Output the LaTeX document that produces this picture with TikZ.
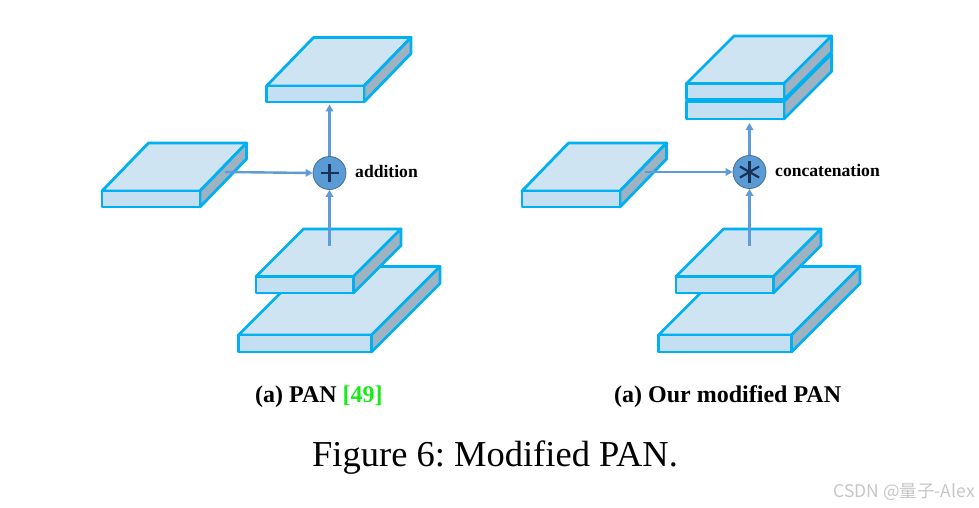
\documentclass[tikz,border=0pt]{standalone}
\usepackage{fontspec}
\setmainfont{Liberation Serif}
\newfontfamily\cjkfont{Noto Sans CJK SC}
\usepackage{tikz}
\usetikzlibrary{arrows.meta,positioning}
\frenchspacing

\definecolor{slabtopc}{RGB}{207,228,243}
\definecolor{slabfrontc}{RGB}{196,223,241}
\definecolor{slabsidec}{RGB}{158,178,194}
\definecolor{slabedge}{RGB}{0,176,240}
\definecolor{opfill}{RGB}{91,155,213}
\definecolor{opedge}{RGB}{70,110,150}
\definecolor{opsign}{RGB}{25,50,85}
\definecolor{flowc}{RGB}{95,155,215}
\definecolor{citec}{RGB}{25,235,25}

\tikzset{
  slabtop/.style={draw=slabedge, line width=2.8pt, line join=round, fill=slabtopc},
  slabfront/.style={draw=slabedge, line width=2.8pt, line join=round, fill=slabfrontc},
  slabside/.style={draw=slabedge, line width=2.8pt, line join=round, fill=slabsidec},
  mergeop/.style={circle, draw=opedge, line width=0.8pt, fill=opfill, minimum size=33pt, inner sep=0pt},
  flow/.style={draw=flowc, line width=2.4pt, -{Triangle[length=7pt,width=7.5pt]}},
  signline/.style={draw=opsign, line width=2.4pt},
  oplabel/.style={anchor=base west, inner sep=0pt, font=\fontsize{17.6}{20}\selectfont\bfseries},
  subcap/.style={anchor=base west, inner sep=0pt, font=\fontsize{24}{28}\selectfont\bfseries}
}

% x, y (front top left), width, thickness, depth dx, depth dy
\newcommand{\featslab}[6]{%
  \draw[slabtop] (#1,#2) -- ++(#5,-#6) -- ++(#3,0) -- ++(-#5,#6) -- cycle;
  \draw[slabside] ({#1+#3},#2) -- ++(#5,-#6) -- ++(0,#4) -- ++(-#5,#6) -- cycle;
  \draw[slabfront] (#1,#2) rectangle ++(#3,#4);
}

\begin{document}
\begin{tikzpicture}[x=1pt,y=-1pt]
  \fill[white] (0,0) rectangle (979,508);
  \useasboundingbox (0,0) rectangle (979,508);

  % (a) PAN
  \featslab{266.5}{86}{97.5}{16}{47}{48.5}
  \featslab{102}{191}{98}{16}{46.5}{48}
  \featslab{238.5}{335}{133}{17}{68.5}{68.5}
  \featslab{256}{276.5}{97.5}{16.5}{47.5}{47.5}

  \node[mergeop] (add) at (329.5,173) {};
  \draw[signline] ([yshift=-9pt]add.center) -- ([yshift=9pt]add.center);
  \draw[signline] ([xshift=-9pt]add.center) -- ([xshift=9pt]add.center);
  \node[oplabel] (addlbl) at (355,177.5) {addition};

  \coordinate (lsrc) at (225,172);
  \coordinate (lbot) at (329.5,246);
  \coordinate (ltop) at (329.5,104.5);
  \draw[flow] (lsrc) -- (add.west);
  \draw[flow] (lbot) -- (add.south);
  \draw[flow] (add.north) -- (ltop);

  % (b) modified PAN
  \featslab{686.5}{101.5}{97.5}{17.5}{47.5}{47.5}
  \featslab{686.5}{83.5}{97.5}{16}{47.5}{47.5}
  \featslab{522}{191}{98}{16}{46.5}{48}
  \featslab{658.5}{335}{133}{17}{68.5}{68.5}
  \featslab{676}{276.5}{97.5}{16.5}{47.5}{47.5}

  \node[mergeop] (cat) at (749.5,172) {};
  \foreach \ang in {90,30,150}
    \draw[signline, line width=2.2pt] ([shift={(\ang:11pt)}]cat.center) -- ([shift={(\ang+180:11pt)}]cat.center);
  \node[oplabel] (catlbl) at (775,176.5) {concatenation};

  \coordinate (rsrc) at (645,172);
  \coordinate (rbot) at (749.5,246);
  \coordinate (rtop) at (749.5,123);
  \draw[flow] (rsrc) -- (cat.west);
  \draw[flow] (rbot) -- (cat.south);
  \draw[flow] (cat.north) -- (rtop);

  % captions
  \node[subcap] (capa) at (255,402) {(a) PAN \textcolor{citec}{[49]}};
  \node[subcap] (capb) at (614,402) {(a) Our modified PAN};
  \node[anchor=base west, inner sep=0pt, font=\fontsize{36.5}{40}\selectfont] (fig) at (312,466) {Figure 6: Modified PAN.};
  \node[anchor=base east, inner sep=0pt, text=black!22, font=\cjkfont\fontsize{17.5}{20}\selectfont] (mark) at (975,497) {CSDN @量子-Alex};
\end{tikzpicture}
\end{document}
